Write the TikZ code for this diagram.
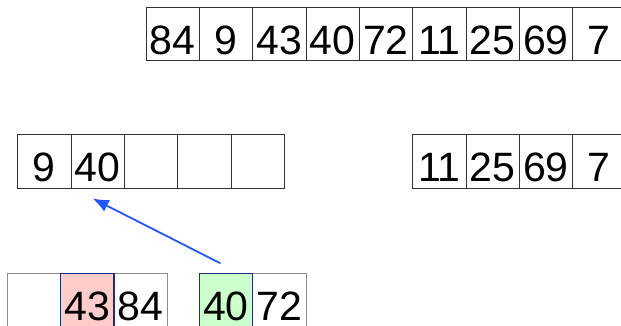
\documentclass[tikz,border=0pt]{standalone}
\usepackage{fontspec}
\setmainfont{Liberation Sans}
\usetikzlibrary{arrows.meta,positioning}
\definecolor{pickred}{HTML}{FFCCCC}
\definecolor{pickgreen}{HTML}{CCFFCC}
\definecolor{picknavy}{HTML}{1C2C86}
\definecolor{movblue}{HTML}{2457FF}

\begin{document}
\begin{tikzpicture}[
  x=1pt,y=-1pt,
  cell/.style={draw=black!80,line width=0.9pt,minimum width=53.33pt,inner sep=0pt,outer sep=0pt,
    text height=46.8pt,text depth=6.7pt,font=\fontsize{41pt}{41pt}\selectfont},
  part/.style={cell,draw=black!45},
  pick/.style={cell,draw=picknavy,line width=1.5pt},
  arr/.style={-{Latex[length=16pt,width=13pt]},draw=movblue,fill=movblue,line width=1.8pt},
  node distance=0pt
]
\useasboundingbox (0,0) rectangle (621,326);
% full array
\node[cell,anchor=north west] (a1) at (146,7.3) {84};
\node[cell,right=of a1] (a2) {9};
\node[cell,right=of a2] (a3) {43};
\node[cell,right=of a3] (a4) {40};
\node[cell,right=of a4] (a5) {72};
\node[cell,right=of a5] (a6) {11};
\node[cell,right=of a6] (a7) {25};
\node[cell,right=of a7] (a8) {69};
\node[cell,right=of a8] (a9) {7};
% left half being merged
\node[cell,anchor=north west] (l1) at (17.7,134.7) {9};
\node[cell,right=of l1] (l2) {40};
\node[cell,right=of l2] (l3) {};
\node[cell,right=of l3] (l4) {};
\node[cell,right=of l4] (l5) {};
% right half
\node[cell,anchor=north west] (r1) at (a6.south west|-l1.north) {11};
\node[cell,right=of r1] (r2) {25};
\node[cell,right=of r2] (r3) {69};
\node[cell,right=of r3] (r4) {7};
% sub-arrays compared
\node[part,anchor=north west] (p1) at (7.3,273.3) {};
\node[part,right=of p1] (p2) {};
\node[part,right=of p2] (p3) {84};
\node[pick,fill=pickred] (p2x) at (p2) {43};
\node[part,anchor=north west] (q1) at (199.3,273.3) {};
\node[part,right=of q1] (q2) {72};
\node[pick,fill=pickgreen] (q1x) at (q1) {40};
% copy smaller value
\coordinate (from) at ([xshift=-5.6pt,yshift=10pt]q1.north);
\coordinate (to) at ([xshift=-5pt,yshift=-10.3pt]l2.south);
\draw[arr] (from)--(to);
\end{tikzpicture}
\end{document}
